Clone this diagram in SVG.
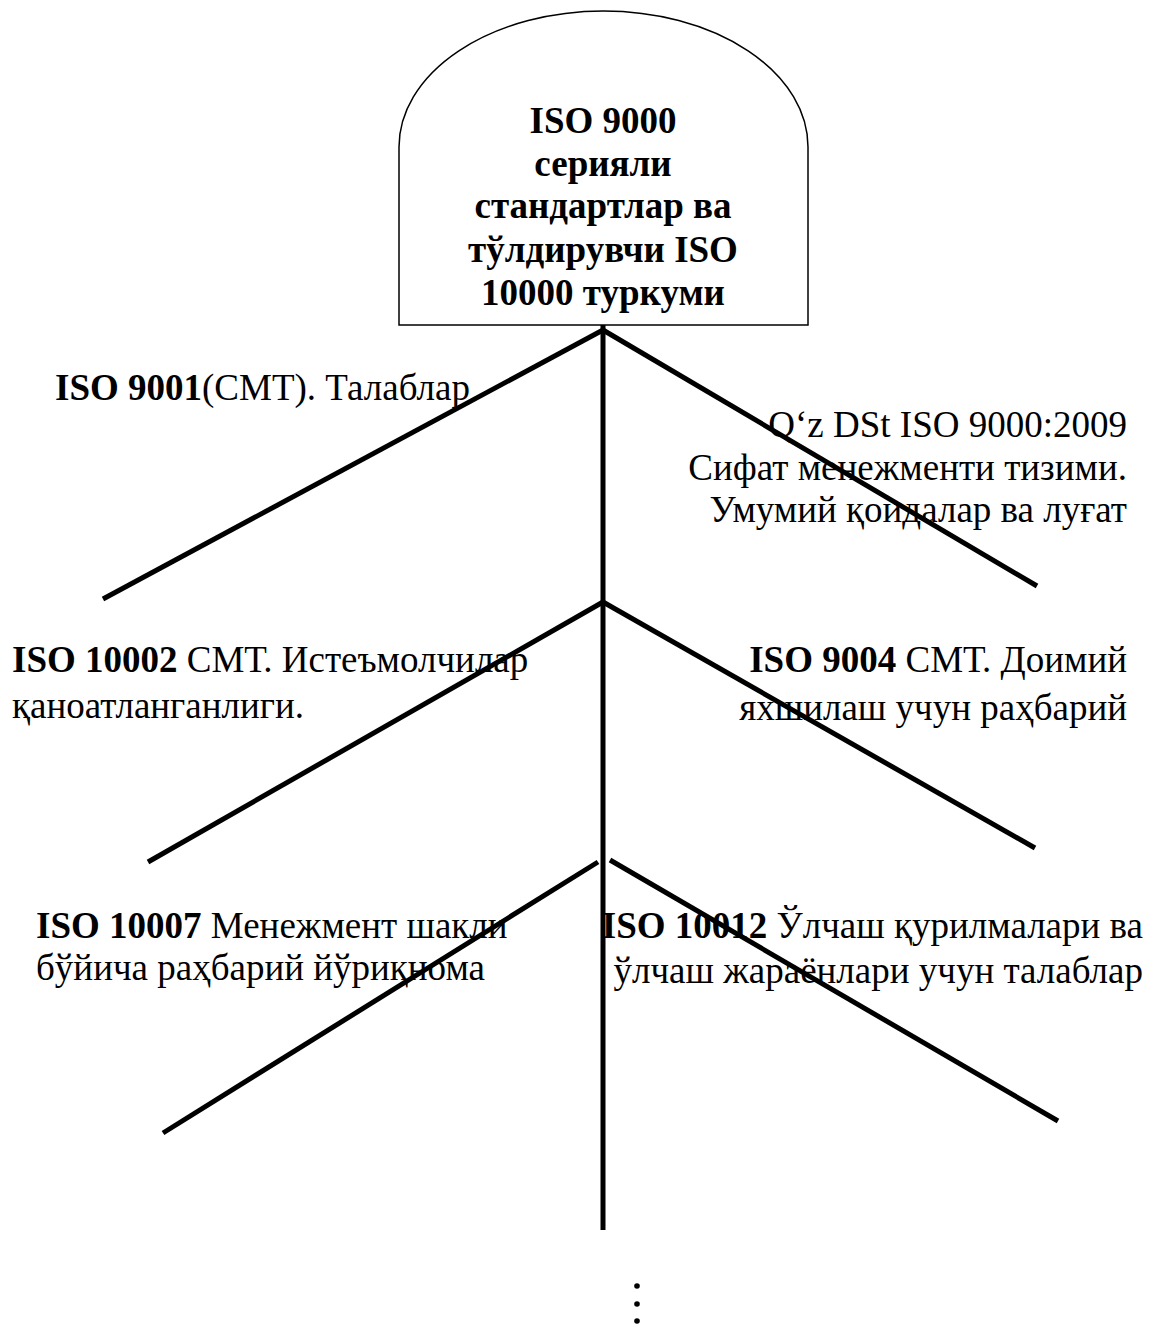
<svg xmlns="http://www.w3.org/2000/svg" width="1156" height="1326" viewBox="0 0 1156 1326">
  <style>
    .bg { fill: #ffffff; }
    .box { fill: #ffffff; stroke: #000000; stroke-width: 1.5; }
    .title { font-family: "Liberation Serif", "Times New Roman", serif; font-size: 37px; font-weight: bold; fill: #000000; text-anchor: middle; }
    .lbl { font-family: "Liberation Serif", "Times New Roman", serif; font-size: 37px; fill: #000000; }
    .b { font-weight: bold; }
    .end { text-anchor: end; }
    .branch { stroke: #000000; stroke-width: 5; fill: none; stroke-linecap: butt; }
  </style>

  <rect class="bg" x="0" y="0" width="1156" height="1326"/>

  <!-- Root node: arched box -->
  <g id="root">
    <path class="box" d="M399,325 V147 A204.5,136 0 0 1 808,147 V325 Z"/>
    <text class="title" x="603" y="133">ISO 9000</text>
    <text class="title" x="603" y="176">серияли</text>
    <text class="title" x="603" y="218">стандартлар ва</text>
    <text class="title" x="603" y="262">тўлдирувчи ISO</text>
    <text class="title" x="603" y="305">10000 туркуми</text>
  </g>

  <!-- Trunk and branches -->
  <g id="connectors">
    <line class="branch" x1="603" y1="325" x2="603" y2="1230"/>
    <line class="branch" x1="603" y1="330" x2="103" y2="599"/>
    <line class="branch" x1="603" y1="330" x2="1037" y2="586"/>
    <line class="branch" x1="603" y1="602" x2="148" y2="862"/>
    <line class="branch" x1="603" y1="602" x2="1035" y2="848"/>
    <line class="branch" x1="598" y1="862" x2="163" y2="1133"/>
    <line class="branch" x1="610" y1="860" x2="1058" y2="1121"/>
  </g>

  <!-- Branch labels -->
  <g id="iso9001">
    <text class="lbl" x="55" y="400"><tspan class="b">ISO 9001</tspan>(СМТ). Талаблар</text>
  </g>

  <g id="iso9000-2009">
    <text class="lbl end" x="1127" y="437">Q‘z DSt ISO 9000:2009</text>
    <text class="lbl end" x="1127" y="480">Сифат менежменти тизими.</text>
    <text class="lbl end" x="1127" y="522">Умумий қоидалар ва луғат</text>
  </g>

  <g id="iso10002">
    <text class="lbl" x="12" y="672"><tspan class="b">ISO 10002</tspan> СМТ. Истеъмолчилар</text>
    <text class="lbl" x="12" y="718">қаноатланганлиги.</text>
  </g>

  <g id="iso9004">
    <text class="lbl end" x="1127" y="672"><tspan class="b">ISO 9004</tspan> СМТ. Доимий</text>
    <text class="lbl end" x="1127" y="720">яхшилаш учун раҳбарий</text>
  </g>

  <g id="iso10007">
    <text class="lbl" x="36" y="938"><tspan class="b">ISO 10007</tspan> Менежмент шакли</text>
    <text class="lbl" x="36" y="980">бўйича раҳбарий йўриқнома</text>
  </g>

  <g id="iso10012">
    <text class="lbl end" x="1143" y="938"><tspan class="b">ISO 10012</tspan> Ўлчаш қурилмалари ва</text>
    <text class="lbl end" x="1143" y="983">ўлчаш жараёнлари учун талаблар</text>
  </g>

  <!-- Continuation marks below the trunk -->
  <g id="ellipsis">
    <circle cx="637" cy="1286" r="2.8" fill="#000000"/>
    <circle cx="637" cy="1304" r="2.8" fill="#000000"/>
    <circle cx="637" cy="1321" r="2.8" fill="#000000"/>
  </g>
</svg>
